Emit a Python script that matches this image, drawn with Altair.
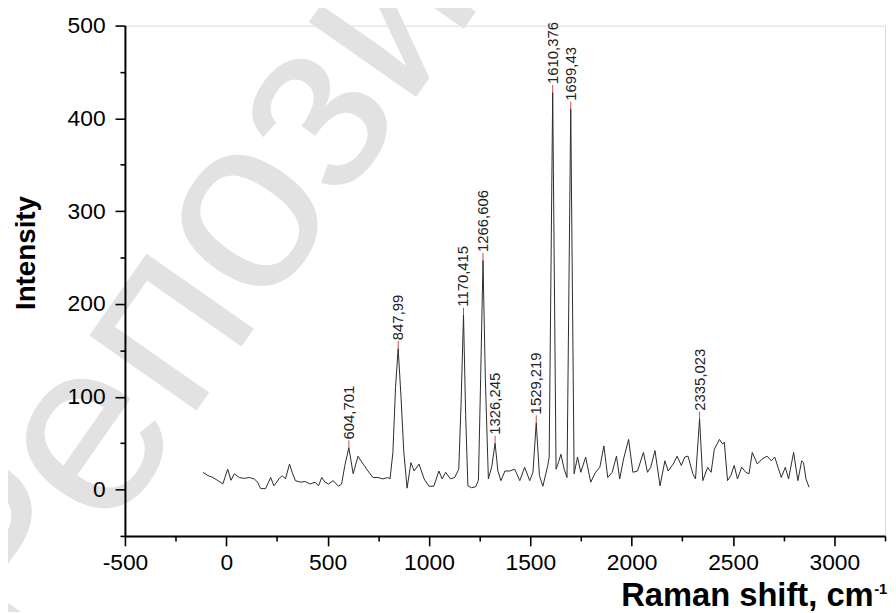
import altair as alt
import pandas as pd

# Raman spectrum trace (wavenumber, intensity)
shift = [-115, -90, -66, -41, -17, 7, 23, 40, 64, 89, 113, 138, 154, 170, 194, 219, 235, 260, 276, 292,
         312, 325, 341, 365, 390, 414, 438, 455, 471, 487, 504, 528, 553, 569, 585, 604.7, 626, 650, 675, 699,
         724, 748, 772, 797, 808, 822, 835, 848, 862, 876, 892, 911, 927, 951, 976, 1000, 1024, 1049, 1065, 1082,
         1106, 1127, 1147, 1158, 1170.4, 1181, 1192, 1210, 1230, 1244, 1255, 1266.6, 1278, 1293, 1310, 1326.2, 1340, 1355, 1375, 1399,
         1423, 1448, 1472, 1497, 1513, 1529.2, 1545, 1562, 1586, 1593, 1610.4, 1627, 1640, 1651, 1667, 1681, 1699.4, 1716, 1733, 1749,
         1773, 1798, 1822, 1843, 1863, 1882, 1904, 1925, 1941, 1960, 1985, 2006, 2029, 2058, 2078, 2094, 2115, 2140, 2164, 2180,
         2205, 2224, 2245, 2262, 2278, 2302, 2315, 2335, 2351, 2375, 2392, 2408, 2433, 2449, 2457, 2473, 2489, 2506, 2522, 2543,
         2563, 2579, 2595, 2620, 2644, 2668, 2689, 2706, 2722, 2738, 2758, 2774, 2799, 2820, 2839, 2848, 2860, 2875]
intensity = [18.6, 15, 13, 9.6, 6, 22, 10, 17, 13, 12, 13, 11.5, 8, 1, 1, 13, 4, 11.5, 15, 11.5,
             27.5, 18.6, 9.6, 8, 8.6, 6, 8, 4, 13, 8, 6, 9.6, 3.6, 6, 26, 45, 17, 36, 27.5, 20,
             13, 13, 11.5, 13, 11.5, 40, 110, 152, 100, 40, 1.5, 29, 20, 27.5, 11.5, 3.6, 3.6, 20, 11.5, 18.6,
             11.5, 13, 22, 90, 188, 80, 4, 2, 3, 10, 120, 247, 120, 11.5, 25, 50, 20, 9.6, 20, 20,
             22, 9.6, 24, 9.6, 18.6, 72, 15, 3.6, 26, 35, 428, 22, 30, 38, 22, 13, 410, 17, 35, 18.6,
             35, 8, 18.6, 24, 47, 13, 18.6, 36, 11.5, 33, 54, 18.6, 20, 40, 18.6, 24, 42, 4, 31, 20,
             27.5, 36, 26, 35, 36, 17, 11.5, 76, 9.6, 24, 18.6, 43.5, 54, 49, 51, 9.6, 15, 26, 11.5, 24,
             18.6, 17, 40, 27.5, 33, 36, 31, 35, 24, 13, 24, 11.5, 40, 9.6, 31, 29, 11.5, 2.5]

# Labelled peaks
peak_pos = [604.701, 847.99, 1170.415, 1266.606, 1326.245, 1529.219, 1610.376, 1699.43, 2335.023]
peak_int = [45, 152, 188, 247, 50, 72, 428, 410, 76]
peak_txt = ["604,701", "847,99", "1170,415", "1266,606", "1326,245", "1529,219", "1610,376", "1699,43", "2335,023"]

x_ticks = list(range(-500, 3251, 250))
y_ticks = list(range(-50, 501, 50))

spec = pd.DataFrame({"shift": shift, "intensity": intensity})
peaks = pd.DataFrame({"shift": peak_pos, "intensity": peak_int, "label": peak_txt})

W, H = 767, 515
FONT = "Liberation Sans"

xscale = alt.Scale(domain=[-500, 3250], nice=False, zero=False)
yscale = alt.Scale(domain=[-50, 500], nice=False, zero=False)

xaxis = alt.Axis(
    values=x_ticks, zindex=1,
    labelExpr="datum.value % 500 === 0 ? '' + datum.value : ''",
    tickSize={"condition": {"test": "datum.value % 500 === 0", "value": 10}, "value": 5},
    grid=False, domainColor="black", domainWidth=2, tickColor="black", tickWidth=1.6,
    labelFont=FONT, labelFontSize=23, labelColor="black", labelPadding=6, labelFlush=False,
    labelOverlap=False,
    title="Raman shift, cm", titleFont=FONT, titleFontSize=33, titleFontWeight="bold",
    titleColor="black", titleX=755, titleY=70, titleAlign="right", titleBaseline="alphabetic",
    titleAnchor="end",
)
yaxis = alt.Axis(
    values=y_ticks, zindex=1,
    labelExpr="datum.value % 100 === 0 ? '' + datum.value : ''",
    tickSize={"condition": {"test": "datum.value % 100 === 0", "value": 10}, "value": 5},
    grid=False, domainColor="black", domainWidth=2, tickColor="black", tickWidth=1.6,
    labelFont=FONT, labelFontSize=23, labelColor="black", labelPadding=10, labelFlush=False,
    labelOverlap=False,
    title="Intensity", titleFont=FONT, titleFontSize=28, titleFontWeight="bold",
    titleColor="black", titleX=-99, titleY=229, titleAlign="center", titleBaseline="middle",
    titleAngle=270,
)

watermark = alt.Chart(pd.DataFrame({"t": ["Репозит"]})).mark_text(
    font=FONT, fontSize=250, fontWeight="normal", color="#e2e2e2", angle=305,
    align="center", baseline="middle",
).encode(x=alt.value(100), y=alt.value(218), text="t:N")

line = alt.Chart(spec).mark_line(color="#2a2a2a", strokeWidth=1).encode(
    x=alt.X("shift:Q", scale=xscale, axis=xaxis),
    y=alt.Y("intensity:Q", scale=yscale, axis=yaxis),
)

ticks = alt.Chart(peaks).transform_calculate(top="datum.intensity + 8").mark_rule(
    color="#d04848", strokeWidth=1
).encode(x="shift:Q", y="intensity:Q", y2="top:Q")

labels = alt.Chart(peaks).transform_calculate(ly="datum.intensity + 9").mark_text(
    font=FONT, fontSize=15, color="#222222", angle=270, align="left", baseline="middle"
).encode(x="shift:Q", y="ly:Q", text="label:N")

sup = alt.Chart(pd.DataFrame({"t": ["-1"]})).mark_text(
    font=FONT, fontSize=15, fontWeight="bold", color="black", align="left", baseline="alphabetic"
).encode(x=alt.value(756), y=alt.value(574), text="t:N")

chart = alt.layer(watermark, line, ticks, labels, sup).properties(
    width=W, height=H,
    autosize=alt.AutoSizeParams(type="none"),
    padding={"left": 118, "top": 15, "right": 3, "bottom": 74},
).configure_view(stroke=None).configure(background="white")

chart.save("out.html", embed_options={"renderer": "svg", "actions": False})
